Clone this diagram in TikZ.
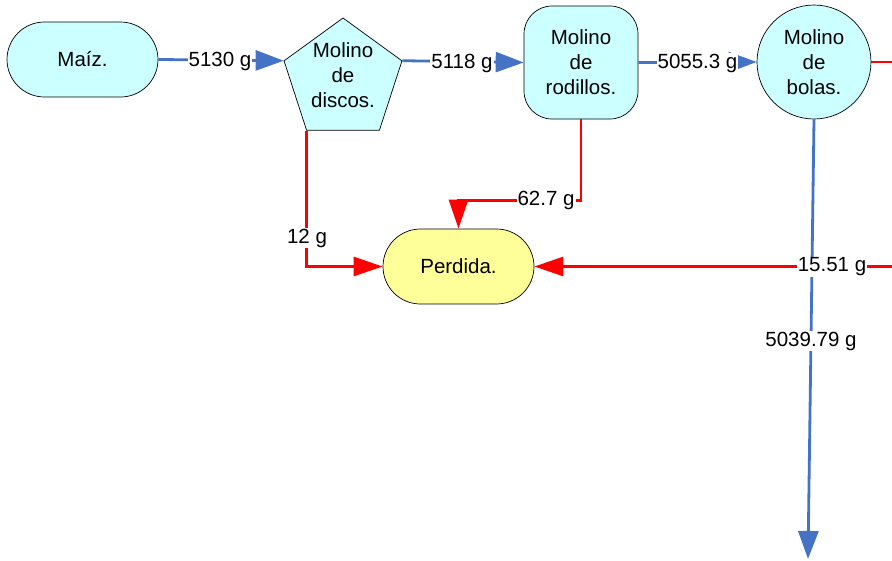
\documentclass[tikz,border=0pt]{standalone}
\usepackage{fontspec}
\setmainfont{Liberation Sans}
\usetikzlibrary{arrows.meta,shapes.geometric}
\definecolor{flowblue}{RGB}{68,114,196}
\definecolor{lossred}{RGB}{255,0,0}
\definecolor{procfill}{RGB}{204,255,255}
\definecolor{lossfill}{RGB}{255,255,153}
\tikzset{
  txt/.style={font=\fontsize{20.5}{25}\selectfont, align=center},
  stadium/.style={txt, draw=black, line width=0.7pt, rectangle, rounded corners=37.5pt,
    minimum width=151pt, minimum height=75pt, inner sep=0pt},
  procbox/.style={txt, draw=black, line width=0.7pt, fill=procfill, rectangle,
    rounded corners=28pt, minimum width=114pt, minimum height=113pt, inner sep=0pt},
  proccirc/.style={txt, draw=black, line width=0.7pt, fill=procfill, circle,
    minimum size=114pt, inner sep=0pt},
  procpent/.style={draw=black, line width=0.7pt, fill=procfill, regular polygon,
    regular polygon sides=5, minimum size=124pt, inner sep=0pt},
  feed/.style={draw=flowblue, line width=2.8pt, -{Triangle[length=28pt,width=20pt]}},
  loss/.style={draw=lossred, line width=2.8pt, -{Triangle[length=29pt,width=19pt]}},
  lbl/.style={txt, fill=white, inner sep=1pt}
}
\begin{document}
\begin{tikzpicture}[x=1pt,y=-1pt]
  \useasboundingbox (0,0) rectangle (892,560);
  \clip (0,0) rectangle (892,560);

  % process units
  \node[stadium, fill=procfill] (maiz) at (82.5,59.5) {Maíz.};
  \node[procpent] (disc) at (343,80) {};
  \node[txt] (disctxt) at (343,75.5) {Molino\\de\\discos.};
  \node[procbox] (rod) at (581,62.5) {Molino\\de\\rodillos.};
  \node[proccirc] (bol) at (814,62) {Molino\\de\\bolas.};
  \node[stadium, fill=lossfill] (perd) at (458.5,266.5) {Perdida.};
  \coordinate (out) at (808,559);

  % main flow
  \draw[feed] (maiz.east) -- (disc.corner 2);
  \draw[feed] (disc.corner 5) -- (rod.west);
  \draw[feed] (rod.east) -- (bol.west);
  \draw[feed] (bol.south) -- (out);

  % losses
  \draw[loss] (disc.corner 3) |- (perd.west);
  \draw[loss] (rod.south) -- ++(0,81) -| (perd.north);
  \draw[loss] (bol.east) -- ++(40,0) |- (perd.east);

  % stream labels
  \node[lbl] (l1) at (220,61) {5130 g};
  \node[lbl] (l2) at (462,63) {5118 g};
  \node[lbl] (l3) at (697.5,63) {5055.3 g};
  \node[lbl] (l4) at (307,238) {12 g};
  \node[lbl] (l5) at (546,200) {62.7 g};
  \node[lbl] (l6) at (832,267) {15.51 g};
  \node[lbl] (l7) at (811,341) {5039.79 g};
\end{tikzpicture}
\end{document}
